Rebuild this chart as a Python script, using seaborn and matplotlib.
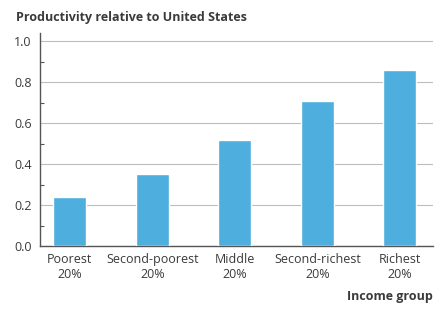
import numpy as np
import pandas as pd
import matplotlib
matplotlib.use("Agg")
import matplotlib.pyplot as plt
import seaborn as sns
from matplotlib.ticker import MultipleLocator

# ── Data ──────────────────────────────────────────────────────────────────────
groups = ["Poorest\n20%", "Second-poorest\n20%", "Middle\n20%",
          "Second-richest\n20%", "Richest\n20%"]
productivity = [0.239, 0.35, 0.52, 0.71, 0.86]
y_ticks = [0.0, 0.2, 0.4, 0.6, 0.8, 1.0]

df = pd.DataFrame({"group": groups, "productivity": productivity})

# ── Style ─────────────────────────────────────────────────────────────────────
sns.set_theme(style="white")
plt.rcParams["font.family"] = ["Open Sans", "DejaVu Sans"]
text_col = "#3a3a3a"

fig = plt.figure(figsize=(4.45, 3.18), dpi=100)
ax = fig.add_axes([0.09, 0.2264, 0.883, 0.6696])

sns.barplot(data=df, x="group", y="productivity", color="#4eaedd",
            saturation=1, width=0.4, ax=ax, zorder=3)

ax.set_ylim(0, 1.04)
ax.set_xlim(-0.36, 4.4)
ax.set_yticks(y_ticks)
ax.set_yticklabels([f"{v:.1f}" for v in y_ticks])
ax.yaxis.set_minor_locator(MultipleLocator(0.1))
ax.grid(axis="y", which="major", color="#bdbdbd", linewidth=0.8, zorder=0)
ax.tick_params(axis="y", which="major", length=0, labelsize=9,
               labelcolor=text_col, pad=6)
ax.tick_params(axis="y", which="minor", length=3, direction="in",
               color="#555555", width=0.8, left=True)
ax.tick_params(axis="x", length=0, labelsize=9, labelcolor=text_col, pad=5)
for lbl in ax.get_xticklabels():
    lbl.set_linespacing(1.25)

for s in ["top", "right"]:
    ax.spines[s].set_visible(False)
for s in ["left", "bottom"]:
    ax.spines[s].set_color("#555555")
    ax.spines[s].set_linewidth(1.0)

ax.set_xlabel("")
ax.set_ylabel("")

fig.text(0.036, 0.945, "Productivity relative to United States", fontsize=9,
         fontweight="bold", color=text_col, ha="left", va="center")
fig.text(0.973, 0.067, "Income group", fontsize=9, fontweight="bold",
         color=text_col, ha="right", va="center")

fig.savefig("out.png", dpi=100)
